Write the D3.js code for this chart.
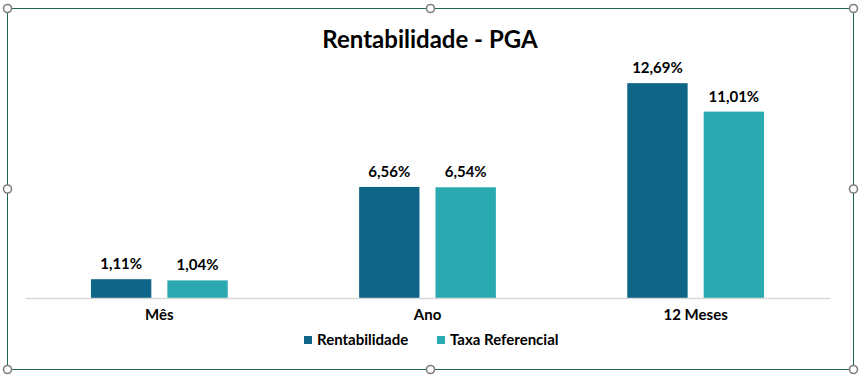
<!DOCTYPE html>
<html>
<head>
<meta charset="UTF-8">
<title>Rentabilidade - PGA</title>
<script src="https://cdn.jsdelivr.net/npm/d3@7"></script>
<style>
  body { margin: 0; background: #fff; }
  svg { display: block; font-family: Lato, "Open Sans", sans-serif; }
</style>
</head>
<body>
<svg id="chart" width="862" height="375"></svg>
<script>
// data
var categories = ['Mês', 'Ano', '12 Meses'];
var seriesNames = ['Rentabilidade', 'Taxa Referencial'];
var rentabilidade = [1.11, 6.56, 12.69];
var taxaReferencial = [1.04, 6.54, 11.01];
var colors = ['#0f6587', '#2aa9b1'];

var svg = d3.select('#chart');

// frame with selection handles (excel style)
var frame = { left: 7.5, top: 8.5, right: 853.5, bottom: 369.5 };
svg.append('rect')
  .attr('x', frame.left).attr('y', frame.top)
  .attr('width', frame.right - frame.left)
  .attr('height', frame.bottom - frame.top)
  .attr('fill', 'none').attr('stroke', '#1d6b45').attr('stroke-width', 1);

var midX = (frame.left + frame.right) / 2, midY = (frame.top + frame.bottom) / 2;
var handles = [
  [frame.left, frame.top], [midX, frame.top], [frame.right, frame.top],
  [frame.left, midY], [frame.right, midY],
  [frame.left, frame.bottom], [midX, frame.bottom], [frame.right, frame.bottom]
];
svg.selectAll('.handle').data(handles).enter().append('circle')
  .attr('class', 'handle')
  .attr('cx', function(d) { return d[0]; })
  .attr('cy', function(d) { return d[1]; })
  .attr('r', 4)
  .attr('fill', '#fff').attr('stroke', '#7f7f7f').attr('stroke-width', 1.6);

// title
svg.append('text')
  .attr('x', 430).attr('y', 48)
  .attr('text-anchor', 'middle')
  .attr('font-size', 24).attr('font-weight', 700).attr('fill', '#000')
  .text('Rentabilidade - PGA');

// scales
var x0 = d3.scaleBand()
  .domain(categories)
  .range([25, 830])
  .paddingInner(0.49)
  .paddingOuter(0.246);

var x1 = d3.scaleBand()
  .domain(seriesNames)
  .range([0, x0.bandwidth()])
  .paddingInner(0.21);

var y = d3.scaleLinear().domain([0, 14]).range([298, 61]);

var color = d3.scaleOrdinal().domain(seriesNames).range(colors);

// rows
var rows = categories.map(function(c, i) {
  return { cat: c, values: [
    { name: seriesNames[0], value: rentabilidade[i] },
    { name: seriesNames[1], value: taxaReferencial[i] }
  ] };
});

var fmt = function(v) { return d3.format('.2f')(v).replace('.', ',') + '%'; };

var groups = svg.selectAll('.group').data(rows).enter().append('g')
  .attr('class', 'group')
  .attr('transform', function(d) { return 'translate(' + x0(d.cat) + ',0)'; });

groups.selectAll('rect').data(function(d) { return d.values; }).enter().append('rect')
  .attr('x', function(d) { return x1(d.name); })
  .attr('y', function(d) { return y(d.value); })
  .attr('width', x1.bandwidth())
  .attr('height', function(d) { return y(0) - y(d.value); })
  .attr('fill', function(d) { return color(d.name); });

groups.selectAll('.lbl').data(function(d) { return d.values; }).enter().append('text')
  .attr('class', 'lbl')
  .attr('x', function(d) { return x1(d.name) + x1.bandwidth() / 2; })
  .attr('y', function(d) { return y(d.value) - 10; })
  .attr('text-anchor', 'middle')
  .attr('font-size', 15).attr('font-weight', 700).attr('fill', '#000')
  .text(function(d) { return fmt(d.value); });

// x axis
var xAxis = svg.append('g')
  .attr('transform', 'translate(0,' + y(0) + ')')
  .call(d3.axisBottom(x0).tickSize(0).tickPadding(11).tickSizeOuter(0));
xAxis.select('.domain').attr('stroke', '#d9d9d9').attr('stroke-width', 1.5);
xAxis.selectAll('text')
  .attr('font-family', 'Lato, "Open Sans", sans-serif')
  .attr('font-size', 15).attr('font-weight', 700).attr('fill', '#000');

// legend
var legendItems = [
  { name: seriesNames[0], x: 304 },
  { name: seriesNames[1], x: 437 }
];
var legend = svg.selectAll('.legend').data(legendItems).enter().append('g')
  .attr('class', 'legend')
  .attr('transform', function(d) { return 'translate(' + d.x + ',340)'; });
legend.append('rect')
  .attr('x', 0).attr('y', -4).attr('width', 8).attr('height', 8)
  .attr('fill', function(d) { return color(d.name); });
legend.append('text')
  .attr('x', 13).attr('y', 5)
  .attr('font-size', 15).attr('font-weight', 700).attr('fill', '#000')
  .text(function(d) { return d.name; });
</script>
</body>
</html>
